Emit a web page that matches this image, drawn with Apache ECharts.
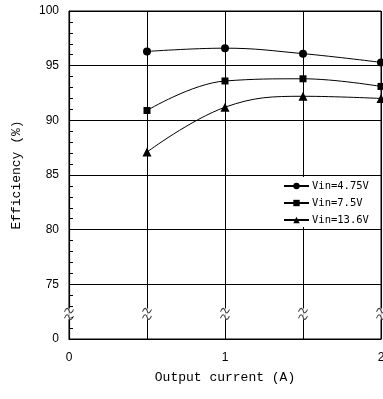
<!DOCTYPE html>
<html>
<head>
<meta charset="utf-8">
<script src="https://cdn.jsdelivr.net/npm/echarts@6/dist/echarts.min.js"></script>
<style>
  html, body { margin: 0; padding: 0; background: #fff; }
  #chart { width: 383px; height: 399px; }
</style>
</head>
<body>
<div id="chart"></div>
<script>
// output current (A)
var currents = [0.5, 1, 1.5, 2];
// efficiency (%) per input voltage
var eff475 = [96.3, 96.6, 96.1, 95.3];
var eff75 = [90.9, 93.6, 93.8, 93.1];
var eff136 = [87.1, 91.2, 92.2, 92.0];
var seriesNames = ['Vin=4.75V', 'Vin=7.5V', 'Vin=13.6V'];
// the axis is broken: its bottom (70) is labelled 0
var axisFloor = 70;
var xTickLabels = [0, 1, 2];
// where the break marks sit
var breakX = [0, 0.5, 1, 1.5, 2];
var breakY = 72.3;

function pairs(xs, ys) {
  return xs.map(function (x, i) { return [x, ys[i]]; });
}

var chart = echarts.init(document.getElementById('chart'));

var lineBase = {
  type: 'line',
  smooth: 0.4,
  color: '#000',
  lineStyle: { color: '#000', width: 1 },
  itemStyle: { color: '#000' },
  z: 5
};

var breakData = breakX.map(function (x) { return [x, breakY]; });
var tildePath = 'path://M0,4 C2,0 4,0 5,3 C6,6 8,6 10,2 M0,10 C2,6 4,6 5,9 C6,12 8,12 10,8';

var option = {
  animation: false,
  backgroundColor: '#fff',
  grid: {
    left: 69, right: 2, top: 11, bottom: 60,
    outerBoundsMode: 'none',
    containLabel: false,
    show: true, borderColor: '#000', borderWidth: 1
  },
  legend: {
    data: seriesNames,
    orient: 'vertical',
    left: 278,
    top: 177,
    backgroundColor: '#fff',
    padding: [3, 4, 1, 5],
    itemWidth: 25,
    itemHeight: 8,
    itemGap: 5,
    textStyle: { fontFamily: 'DejaVu Sans Mono', fontSize: 10.5, color: '#000', lineHeight: 12, padding: [0, 0, 0, -2] }
  },
  xAxis: {
    type: 'value',
    min: 0, max: 2, interval: 0.5,
    name: 'Output current (A)',
    nameLocation: 'middle',
    nameGap: 32,
    nameTextStyle: { fontFamily: 'Liberation Mono', fontSize: 13, color: '#000' },
    axisLine: { show: true, lineStyle: { color: '#000', width: 1.2 } },
    axisTick: { show: false },
    axisLabel: {
      margin: 13,
      fontFamily: 'Liberation Sans', fontSize: 12, color: '#000',
      formatter: function (v) { return xTickLabels.indexOf(v) >= 0 ? String(v) : ''; }
    },
    splitLine: { show: true, lineStyle: { color: '#000', width: 1 } }
  },
  yAxis: {
    type: 'value',
    min: axisFloor, max: 100, interval: 5,
    name: 'Efficiency (%)',
    nameLocation: 'middle',
    nameGap: 46,
    nameTextStyle: { fontFamily: 'Liberation Mono', fontSize: 13, color: '#000' },
    axisLine: { show: true, lineStyle: { color: '#000', width: 1.2 } },
    axisTick: { show: true, inside: true, length: 5, lineStyle: { color: '#000' } },
    minorTick: { show: true, splitNumber: 5, length: 4, lineStyle: { color: '#000' } },
    axisLabel: {
      margin: 10,
      fontFamily: 'Liberation Sans', fontSize: 12, color: '#000',
      formatter: function (v) { return v === axisFloor ? '0' : String(v); }
    },
    splitLine: { show: true, lineStyle: { color: '#000', width: 1 } }
  },
  series: [
    Object.assign({}, lineBase, {
      name: seriesNames[0], data: pairs(currents, eff475),
      symbol: 'circle', symbolSize: 8
    }),
    Object.assign({}, lineBase, {
      name: seriesNames[1], data: pairs(currents, eff75),
      symbol: 'rect', symbolSize: 7
    }),
    Object.assign({}, lineBase, {
      name: seriesNames[2], data: pairs(currents, eff136),
      symbol: 'triangle', symbolSize: 9
    }),
    {
      // white gap cut into the grid lines
      type: 'scatter',
      name: 'breakGap',
      data: breakData,
      symbol: 'rect',
      symbolSize: [5, 11],
      itemStyle: { color: '#fff' },
      silent: true,
      z: 6
    },
    {
      type: 'scatter',
      name: 'break',
      data: breakData,
      symbol: tildePath,
      symbolSize: [9, 11],
      itemStyle: { color: 'rgba(0,0,0,0)', borderColor: '#000', borderWidth: 1 },
      silent: true,
      z: 7
    }
  ]
};

chart.setOption(option);
</script>
</body>
</html>
